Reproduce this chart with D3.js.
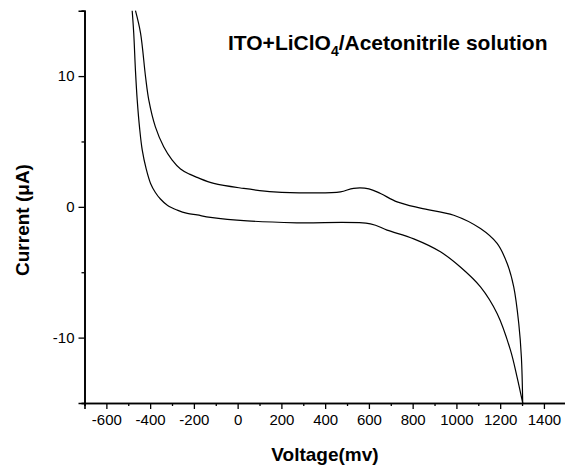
<!DOCTYPE html>
<html>
<head>
<meta charset="utf-8">
<script src="https://cdn.jsdelivr.net/npm/d3@7/dist/d3.min.js"></script>
<style>
  body { margin: 0; background: #fff; }
  svg { display: block; }
  text { font-family: "Liberation Sans", Arial, sans-serif; fill: #000; }
</style>
</head>
<body>
<svg id="chart" width="565" height="466"></svg>
<script>
// Data (voltage in mV, current in µA)
const upperV = [-467, -444, -421, -406, -376, -338, -300, -261, -220, -185, -109, 28, 165, 348, 470, 530, 600, 653, 729, 836, 988, 1110, 1186, 1232, 1262, 1285, 1297, 1303];
const upperI = [15, 13.3, 9.95, 8.16, 6.12, 4.6, 3.6, 2.9, 2.5, 2.25, 1.79, 1.41, 1.15, 1.07, 1.15, 1.42, 1.38, 1.02, 0.38, -0.1, -0.64, -1.66, -2.8, -4.33, -6.12, -8.92, -11.5, -15];
const lowerV = [-482, -475, -467, -459, -448, -436, -418, -398, -376, -353, -320, -276, -230, -185, -124, 44, 272, 607, 683, 805, 927, 1018, 1110, 1186, 1247, 1277, 1303];
const lowerI = [15, 13.3, 10.4, 8.16, 6.0, 4.34, 2.9, 1.79, 1.1, 0.6, 0.1, -0.25, -0.5, -0.62, -0.8, -1.07, -1.22, -1.3, -1.78, -2.45, -3.44, -4.6, -6.12, -8.16, -10.96, -13.0, -15];
const xTicks = [-600, -400, -200, 0, 200, 400, 600, 800, 1000, 1200, 1400];
const xMinorTicks = [-700, -500, -300, -100, 100, 300, 500, 700, 900, 1100, 1300, 1500];
const yTicks = [-10, 0, 10];
const yMinorTicks = [-15, -5, 5, 15];

const svg = d3.select("#chart");
const x = d3.scaleLinear().domain([-700, 1500]).range([84.5, 565.8]);
const y = d3.scaleLinear().domain([-15, 15]).range([403, 10.7]);

// Axes
const fmt = d => String(d);
const xAxis = d3.axisBottom(x).tickValues(xTicks).tickSize(6).tickPadding(5).tickFormat(fmt);
const xMinor = d3.axisBottom(x).tickValues(xMinorTicks).tickSize(3).tickFormat("");
const yAxis = d3.axisLeft(y).tickValues(yTicks).tickSize(6).tickPadding(4).tickFormat(fmt);
const yMinor = d3.axisLeft(y).tickValues(yMinorTicks).tickSize(3).tickFormat("");

function style(g) {
  g.select(".domain").attr("stroke", "#000").attr("stroke-width", 1.6);
  g.selectAll(".tick line").attr("stroke", "#000").attr("stroke-width", 1.3);
  g.selectAll(".tick text").style("font-size", "15px").style("font-family", "Liberation Sans, Arial, sans-serif").attr("fill", "#000");
}

svg.append("g").attr("transform", `translate(0,${y(-15)})`).call(xMinor).call(style);
svg.append("g").attr("transform", `translate(0,${y(-15)})`).call(xAxis).call(style);
svg.append("g").attr("transform", `translate(${x(-700)},0)`).call(yMinor).call(style);
svg.append("g").attr("transform", `translate(${x(-700)},0)`).call(yAxis).call(style);

// Curves
const lineGen = d3.line().x(d => x(d[0])).y(d => y(d[1])).curve(d3.curveCatmullRom.alpha(0.5));
const upper = upperV.map((v, i) => [v, upperI[i]]);
const lower = lowerV.map((v, i) => [v, lowerI[i]]);

svg.append("path").datum(upper).attr("d", lineGen)
  .attr("fill", "none").attr("stroke", "#000").attr("stroke-width", 1.2);
svg.append("path").datum(lower).attr("d", lineGen)
  .attr("fill", "none").attr("stroke", "#000").attr("stroke-width", 1.2);

// Titles
const t = svg.append("text").attr("x", 228).attr("y", 50)
  .style("font-size", "21px").style("font-weight", "bold");
t.append("tspan").text("ITO+LiClO");
t.append("tspan").attr("dy", 6).style("font-size", "14px").text("4");
t.append("tspan").attr("dy", -6).text("/Acetonitrile solution");

svg.append("text").attr("x", 325).attr("y", 461).attr("text-anchor", "middle")
  .style("font-size", "19px").style("font-weight", "bold").text("Voltage(mv)");

svg.append("text").attr("transform", "translate(29,220) rotate(-90)").attr("text-anchor", "middle")
  .style("font-size", "19px").style("font-weight", "bold").text("Current (μA)");
</script>
</body>
</html>
